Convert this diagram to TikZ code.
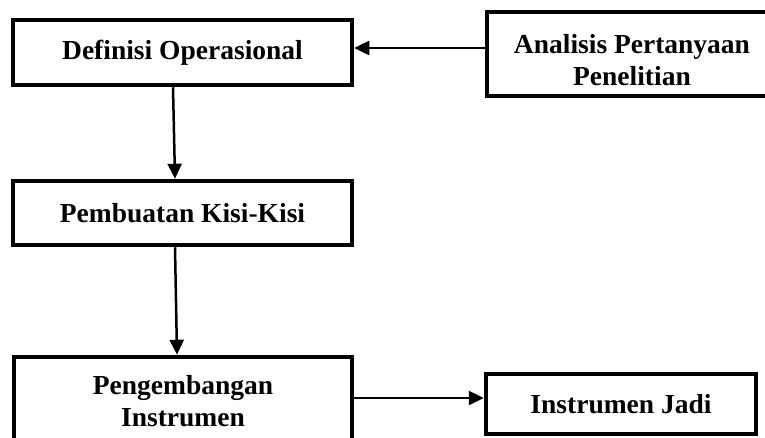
\documentclass[tikz,border=0pt]{standalone}
\usepackage{fontspec}
\setmainfont{Liberation Serif}
\usetikzlibrary{arrows.meta}
\begin{document}
\begin{tikzpicture}[x=1pt,y=-1pt,
  box/.style={draw=black, line width=4.5pt, rectangle, inner sep=0pt, align=center,
    font=\bfseries\fontsize{27.5}{32}\selectfont},
  lbl/.style={inner sep=0pt, align=center, font=\bfseries\fontsize{27.5}{32}\selectfont},
  arr/.style={draw=black, line width=2.5pt, -{Triangle[length=15pt,width=14pt]}}]
\clip (0,0) rectangle (765,437);
\fill[white] (0,0) rectangle (765,437);
\node[box, minimum width=339pt, minimum height=65pt] (b1) at (182.5,52.5) {Definisi Operasional};
\node[box, minimum width=290pt, minimum height=84pt] (b2) at (632,54) {};
\node[lbl] (b2t) at (632,60) {Analisis Pertanyaan\\Penelitian};
\node[box, minimum width=339pt, minimum height=64pt] (b3) at (182.5,213) {Pembuatan Kisi-Kisi};
\node[box, minimum width=338pt, minimum height=88pt] (b4) at (183,401) {Pengembangan\\Instrumen};
\node[box, minimum width=270pt, minimum height=60pt] (b5) at (621,404) {Instrumen Jadi};
\draw[arr] ([yshift=6pt]b2.west) -- ([yshift=6pt]b2.west -| b1.east);
\draw[arr] ([xshift=-9.5pt]b1.south) -- ([xshift=-7.5pt]b3.north);
\draw[arr] ([xshift=-7.5pt]b3.south) -- ([xshift=-6pt]b4.north);
\draw[arr] ([yshift=3pt]b4.east) -- ([yshift=3pt]b4.east -| b5.west);
\end{tikzpicture}
\end{document}
